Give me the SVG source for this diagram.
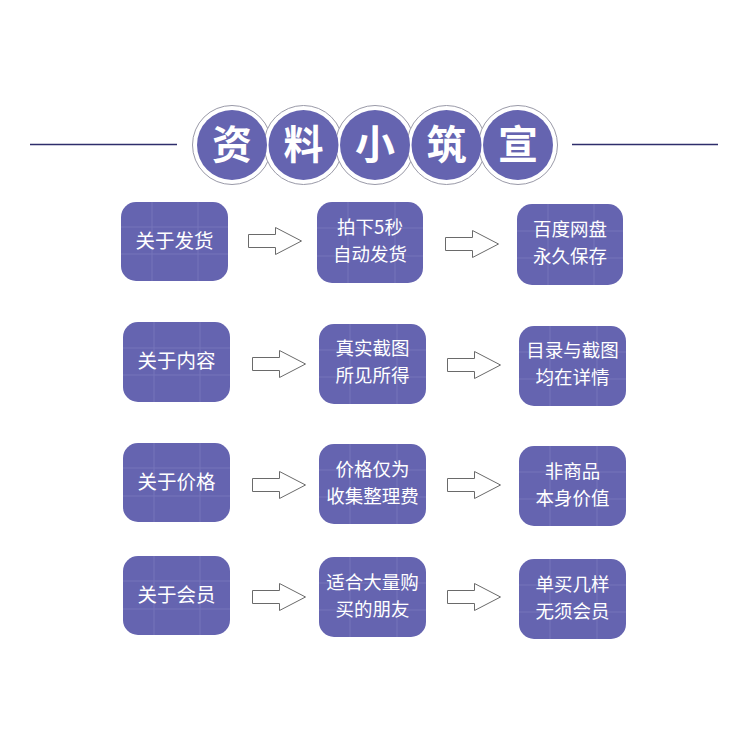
<svg xmlns="http://www.w3.org/2000/svg" width="750" height="750" viewBox="0 0 750 750">
<style>
.bg{fill:#ffffff}
.rule{stroke:#2e2d6b;stroke-width:1.5}
.ring{fill:#ffffff;stroke:#9a9aa8;stroke-width:1}
.disc{fill:#6564b0}
.title{font-family:"Noto Sans CJK SC","Noto Sans",sans-serif;font-weight:700;font-size:40px;fill:#ffffff;text-anchor:middle}
.box{fill:#6564b0}
.grid{stroke:#8a89c8;stroke-width:1;opacity:0.45}
.lbl{font-family:"Noto Sans CJK SC","Noto Sans",sans-serif;font-size:19.5px;fill:#ffffff;text-anchor:middle}
.lbl2{font-family:"Noto Sans CJK SC","Noto Sans",sans-serif;font-size:18.5px;fill:#ffffff;text-anchor:middle}
.arrow{fill:#ffffff;stroke:#6a6a6a;stroke-width:1}
</style>
<rect class="bg" x="0" y="0" width="750" height="750"/>
<g id="header">
<line class="rule" x1="30" y1="144.5" x2="177" y2="144.5"/>
<line class="rule" x1="572" y1="144.5" x2="718" y2="144.5"/>
<circle class="ring" cx="232" cy="145" r="39.5"/>
<circle class="ring" cx="303.5" cy="145" r="39.5"/>
<circle class="ring" cx="375" cy="145" r="39.5"/>
<circle class="ring" cx="446.5" cy="145" r="39.5"/>
<circle class="ring" cx="518" cy="145" r="39.5"/>
<circle class="disc" cx="232" cy="145" r="35"/>
<circle class="disc" cx="303.5" cy="145" r="35"/>
<circle class="disc" cx="375" cy="145" r="35"/>
<circle class="disc" cx="446.5" cy="145" r="35"/>
<circle class="disc" cx="518" cy="145" r="35"/>
<text class="title" x="232" y="159">资</text>
<text class="title" x="303.5" y="159">料</text>
<text class="title" x="375" y="159">小</text>
<text class="title" x="446.5" y="159">筑</text>
<text class="title" x="518" y="159">宣</text>
</g>
<g id="connectors">
<path class="arrow" d="M248.5,234.5 h27 v-7 l26,13.5 l-26,13.5 v-7 h-27 z"/>
<path class="arrow" d="M445.5,237.5 h27 v-7 l26,13.5 l-26,13.5 v-7 h-27 z"/>
<path class="arrow" d="M252.5,357.5 h27 v-7 l26,13.5 l-26,13.5 v-7 h-27 z"/>
<path class="arrow" d="M447.5,358.5 h27 v-7 l26,13.5 l-26,13.5 v-7 h-27 z"/>
<path class="arrow" d="M252.5,478.5 h27 v-7 l26,13.5 l-26,13.5 v-7 h-27 z"/>
<path class="arrow" d="M447.5,478.5 h27 v-7 l26,13.5 l-26,13.5 v-7 h-27 z"/>
<path class="arrow" d="M252.5,590.5 h27 v-7 l26,13.5 l-26,13.5 v-7 h-27 z"/>
<path class="arrow" d="M447.5,590.5 h27 v-7 l26,13.5 l-26,13.5 v-7 h-27 z"/>
</g>
<g id="r1c1"><rect class="box" x="121" y="202" width="107" height="79" rx="15"/>
<path class="grid" d="M152,202v79M198,202v79M121,227h107M121,254h107"/>
<text class="lbl" x="174.5" y="248">关于发货</text></g>
<g id="r1c2"><rect class="box" x="317" y="202" width="106" height="81" rx="15"/>
<path class="grid" d="M348,202v81M395,202v81M317,228h106M317,256h106"/>
<text class="lbl2"><tspan x="370" y="234">拍下5秒</tspan><tspan x="370" y="261">自动发货</tspan></text></g>
<g id="r1c3"><rect class="box" x="517" y="204" width="106" height="81" rx="15"/>
<path class="grid" d="M548,204v81M594,204v81M517,231h106M517,258h106"/>
<text class="lbl2"><tspan x="570" y="236">百度网盘</tspan><tspan x="570" y="263">永久保存</tspan></text></g>
<g id="r2c1"><rect class="box" x="123" y="322" width="107" height="80" rx="15"/>
<path class="grid" d="M154,322v80M200,322v80M123,348h107M123,375h107"/>
<text class="lbl" x="176.5" y="368">关于内容</text></g>
<g id="r2c2"><rect class="box" x="319" y="324" width="107" height="80" rx="15"/>
<path class="grid" d="M350,324v80M397,324v80M319,350h107M319,377h107"/>
<text class="lbl2"><tspan x="372.5" y="355">真实截图</tspan><tspan x="372.5" y="382">所见所得</tspan></text></g>
<g id="r2c3"><rect class="box" x="519" y="326" width="107" height="80" rx="15"/>
<path class="grid" d="M550,326v80M597,326v80M519,352h107M519,379h107"/>
<text class="lbl2"><tspan x="572.5" y="357">目录与截图</tspan><tspan x="572.5" y="384">均在详情</tspan></text></g>
<g id="r3c1"><rect class="box" x="123" y="443" width="107" height="79" rx="15"/>
<path class="grid" d="M154,443v79M200,443v79M123,468h107M123,496h107"/>
<text class="lbl" x="176.5" y="489">关于价格</text></g>
<g id="r3c2"><rect class="box" x="319" y="444" width="107" height="80" rx="15"/>
<path class="grid" d="M350,444v80M397,444v80M319,470h107M319,497h107"/>
<text class="lbl2"><tspan x="372.5" y="476">价格仅为</tspan><tspan x="372.5" y="503">收集整理费</tspan></text></g>
<g id="r3c3"><rect class="box" x="519" y="446" width="107" height="80" rx="15"/>
<path class="grid" d="M550,446v80M597,446v80M519,472h107M519,499h107"/>
<text class="lbl2"><tspan x="572.5" y="478">非商品</tspan><tspan x="572.5" y="505">本身价值</tspan></text></g>
<g id="r4c1"><rect class="box" x="123" y="556" width="107" height="79" rx="15"/>
<path class="grid" d="M154,556v79M200,556v79M123,581h107M123,609h107"/>
<text class="lbl" x="176.5" y="602">关于会员</text></g>
<g id="r4c2"><rect class="box" x="319" y="557" width="107" height="80" rx="15"/>
<path class="grid" d="M350,557v80M397,557v80M319,583h107M319,610h107"/>
<text class="lbl2"><tspan x="372.5" y="589">适合大量购</tspan><tspan x="372.5" y="616">买的朋友</tspan></text></g>
<g id="r4c3"><rect class="box" x="519" y="559" width="107" height="80" rx="15"/>
<path class="grid" d="M550,559v80M597,559v80M519,585h107M519,612h107"/>
<text class="lbl2"><tspan x="572.5" y="591">单买几样</tspan><tspan x="572.5" y="618">无须会员</tspan></text></g>
</svg>
